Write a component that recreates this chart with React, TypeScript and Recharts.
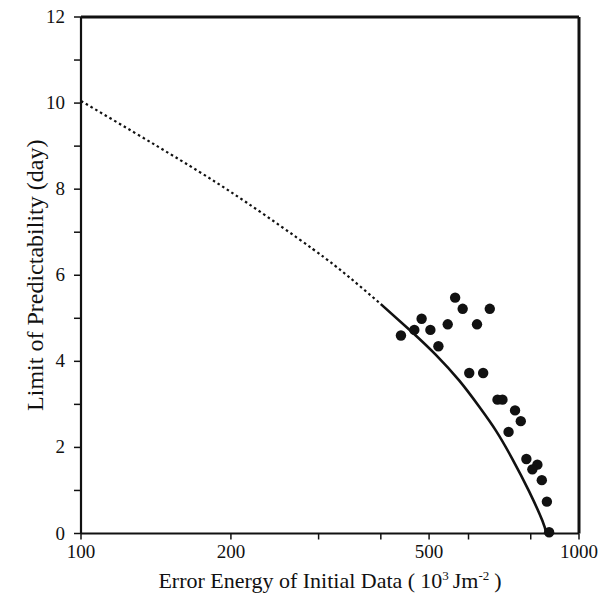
import {
  ComposedChart,
  Line,
  Scatter,
  XAxis,
  YAxis,
  Label,
} from "recharts";

// model curve, dotted part (extrapolated)
const dottedX = [100, 158, 215, 292, 346, 400];
const dottedY = [10.05, 8.68, 7.69, 6.61, 5.95, 5.33];

// model curve, solid part
const solidX = [400, 463, 516, 575, 630, 681, 735, 794, 844, 860];
const solidY = [5.33, 4.67, 4.15, 3.55, 2.95, 2.39, 1.73, 0.98, 0.3, 0];

// observed cases
const obsX = [439, 467, 483, 503, 522, 545, 564, 584, 624, 662, 602, 642, 686, 702, 744, 764, 722, 784, 825, 806, 842, 862, 871];
const obsY = [4.6, 4.73, 4.99, 4.73, 4.35, 4.86, 5.48, 5.22, 4.86, 5.22, 3.73, 3.73, 3.11, 3.11, 2.86, 2.61, 2.36, 1.73, 1.6, 1.49, 1.24, 0.74, 0.03];

const xTicks = [100, 200, 300, 400, 500, 600, 700, 800, 900, 1000];
const xLabelled = [100, 200, 500, 1000];
const yTicks = [0, 1, 2, 3, 4, 5, 6, 7, 8, 9, 10, 11, 12];

const dotted = dottedX.map((x, i) => ({ x, y: dottedY[i] }));
const solid = solidX.map((x, i) => ({ x, y: solidY[i] }));
const obs = obsX.map((x, i) => ({ x, y: obsY[i] }));

const font = "'Liberation Serif', 'Times New Roman', serif";

function XTitle(props: any) {
  const vb = props.viewBox || {};
  const cx = vb.x + vb.width / 2;
  return (
    <text x={cx} y={588} textAnchor="middle" fontFamily={font} fontSize={22} fill="#111">
      Error Energy of Initial Data (
      <tspan dx={5}>10</tspan>
      <tspan dy={-8} fontSize={13}>3</tspan>
      <tspan dy={8} dx={4}>Jm</tspan>
      <tspan dy={-8} fontSize={13}>-2</tspan>
      <tspan dy={8} dx={5}>)</tspan>
    </text>
  );
}

function XTick(props: any) {
  const v = props.payload.value;
  if (!xLabelled.includes(v)) return null;
  return (
    <text x={props.x} y={props.y + 14} textAnchor="middle" fontFamily={font} fontSize={19} fill="#111">
      {v}
    </text>
  );
}

function YTick(props: any) {
  const v = props.payload.value;
  if (v % 2 !== 0) return null;
  return (
    <text x={props.x - 3} y={props.y + 6} textAnchor="end" fontFamily={font} fontSize={19} fill="#111">
      {v}
    </text>
  );
}

export default function App() {
  return (
    <div style={{ position: "absolute", left: 0, top: 0, background: "#fff" }}>
      <ComposedChart
        width={612}
        height={597}
        margin={{ top: 16, right: 32, bottom: 0, left: 0 }}
      >
        <XAxis
          xAxisId="b"
          dataKey="x"
          type="number"
          scale="log"
          domain={[100, 1000]}
          ticks={xTicks}
          height={63.5}
          tickSize={6}
          tickMargin={4}
          axisLine={{ stroke: "#111", strokeWidth: 2 }}
          tickLine={{ stroke: "#111", strokeWidth: 1.5 }}
          tick={<XTick />}
          allowDataOverflow
        >
          <Label content={<XTitle />} />
        </XAxis>
        <XAxis
          xAxisId="t"
          dataKey="x"
          type="number"
          scale="log"
          orientation="top"
          domain={[100, 1000]}
          ticks={xTicks}
          tick={false}
          height={1}
          tickSize={5}
          axisLine={{ stroke: "#111", strokeWidth: 3 }}
          tickLine={{ stroke: "#111", strokeWidth: 1.5 }}
          allowDataOverflow
        />
        <YAxis
          yAxisId="l"
          type="number"
          domain={[0, 12]}
          ticks={yTicks}
          width={81}
          tickSize={7}
          tickMargin={6}
          axisLine={{ stroke: "#111", strokeWidth: 2.2 }}
          tickLine={{ stroke: "#111", strokeWidth: 1.5 }}
          tick={<YTick />}
        >
          <Label
            value="Limit of Predictability (day)"
            angle={-90}
            position="insideLeft"
            offset={0}
            dx={34}
            style={{ fontFamily: font, fontSize: 24, fill: "#111", textAnchor: "middle" }}
          />
        </YAxis>
        <YAxis
          yAxisId="r"
          type="number"
          orientation="right"
          domain={[0, 12]}
          ticks={yTicks}
          tick={false}
          width={1}
          tickSize={5}
          axisLine={{ stroke: "#111", strokeWidth: 3 }}
          tickLine={{ stroke: "#111", strokeWidth: 1.5 }}
        />
        <Line
          xAxisId="t"
          yAxisId="r"
          data={dotted}
          dataKey="y"
          type="natural"
          stroke="#111"
          strokeWidth={2.2}
          strokeDasharray="2.5 3"
          dot={false}
          activeDot={false}
          isAnimationActive={false}
        />
        <Line
          xAxisId="b"
          yAxisId="l"
          data={solid}
          dataKey="y"
          type="natural"
          stroke="#111"
          strokeWidth={2.6}
          dot={false}
          activeDot={false}
          isAnimationActive={false}
        />
        <Scatter
          xAxisId="b"
          yAxisId="l"
          data={obs}
          dataKey="y"
          fill="#111"
          shape={(p: any) => <circle cx={p.cx} cy={p.cy} r={5.2} fill="#111" />}
          isAnimationActive={false}
        />
      </ComposedChart>
    </div>
  );
}
